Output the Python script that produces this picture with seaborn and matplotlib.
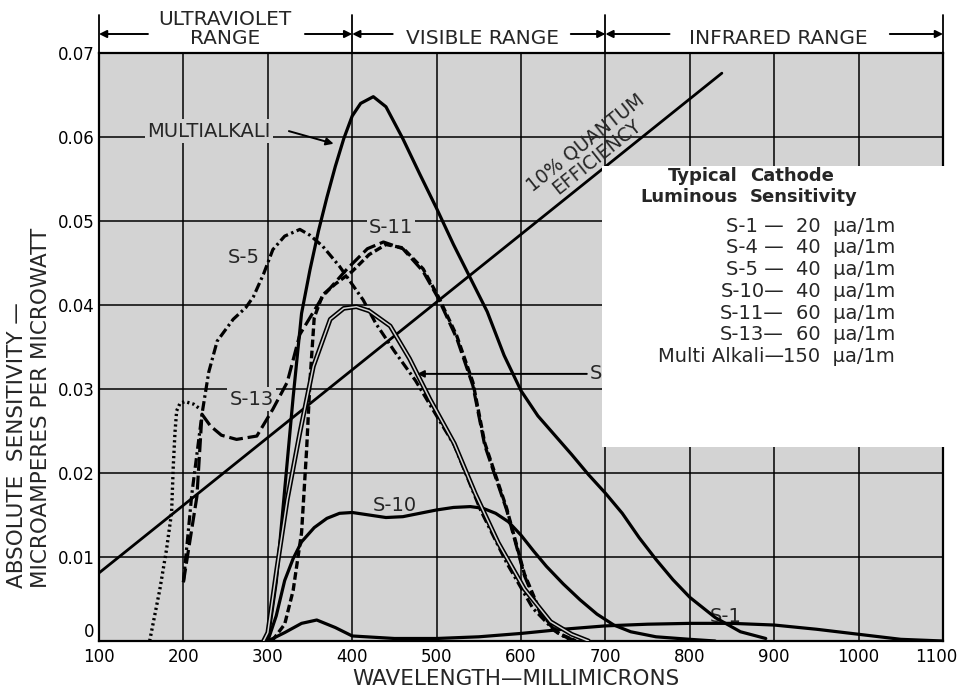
import matplotlib
matplotlib.use("Agg")
import matplotlib.pyplot as plt
import matplotlib.transforms as mtransforms
from matplotlib.patches import Rectangle
import seaborn as sns

# ---------------------------------------------------------------------------
# Spectral response of photocathodes
# wavelength in millimicrons, absolute sensitivity in microamperes per microwatt
# ---------------------------------------------------------------------------
wl_multi = [300, 310, 320, 330, 340, 350, 360, 370, 380, 390, 400, 410, 425,
            440, 460, 480, 500, 520, 540, 560, 580, 600, 620, 640, 660, 680,
            700, 720, 740, 760, 780, 800, 830, 860, 890]
sens_multi = [0, 0.007, 0.018, 0.029, 0.039, 0.0442, 0.0488, 0.0528, 0.0565,
              0.0598, 0.0625, 0.064, 0.0648, 0.0636, 0.0598, 0.0556, 0.0515,
              0.0472, 0.0432, 0.0392, 0.034, 0.0298, 0.0268, 0.0245, 0.0222,
              0.0198, 0.0176, 0.0152, 0.0123, 0.0097, 0.0073, 0.0052, 0.0028,
              0.0011, 0.0003]

wl_s1 = [300, 320, 340, 358, 380, 400, 450, 500, 550, 600, 650, 700, 750,
         800, 850, 900, 950, 1000, 1050, 1100]
sens_s1 = [0, 0.001, 0.0021, 0.0025, 0.0016, 0.0006, 0.0003, 0.0003, 0.0005,
           0.0009, 0.0014, 0.0018, 0.002, 0.0021, 0.0021, 0.0019, 0.0014,
           0.0008, 0.0002, 0]

wl_s4 = [295, 300, 311, 323, 338, 354, 374, 390, 405, 420, 445, 468, 492,
         521, 546, 573, 604, 635, 660, 680]
sens_s4 = [0, 0.001, 0.0088, 0.0168, 0.0248, 0.0327, 0.0383, 0.0396, 0.0398,
           0.0393, 0.0375, 0.0336, 0.0288, 0.0235, 0.0175, 0.0117, 0.0062,
           0.0023, 0.0008, 0]

wl_s5 = [200, 210, 222, 230, 240, 259, 274, 283, 295, 306, 320, 338, 350, 365,
         385, 413, 428, 450, 475, 500, 521, 552, 583, 614, 640, 660]
sens_s5 = [0.007, 0.0175, 0.027, 0.032, 0.0357, 0.0383, 0.0397, 0.041, 0.0437,
           0.0466, 0.0482, 0.049, 0.0483, 0.047, 0.0446, 0.0406, 0.0378,
           0.0345, 0.031, 0.0268, 0.0233, 0.0156, 0.0093, 0.0039, 0.0012, 0]

wl_s10 = [300, 310, 320, 330, 340, 355, 370, 385, 400, 420, 440, 460, 480, 500,
          520, 540, 555, 570, 585, 600, 615, 630, 650, 670, 690, 710, 730, 760,
          800, 830]
sens_s10 = [0, 0.003, 0.0072, 0.0098, 0.0118, 0.0135, 0.0146, 0.0152, 0.0153,
            0.015, 0.0147, 0.0148, 0.0152, 0.0156, 0.0159, 0.016, 0.0158,
            0.0152, 0.0142, 0.0126, 0.0107, 0.0089, 0.0068, 0.0049, 0.0032,
            0.0019, 0.0011, 0.0005, 0.0002, 0]

wl_s11 = [305, 320, 330, 340, 346, 350, 355, 365, 380, 400, 420, 440, 460, 484,
          502, 524, 543, 557, 583, 604, 624, 645, 665]
sens_s11 = [0, 0.002, 0.006, 0.0129, 0.0228, 0.031, 0.0385, 0.0412, 0.0425,
            0.044, 0.046, 0.0472, 0.0468, 0.0443, 0.041, 0.0363, 0.0308,
            0.0236, 0.0158, 0.008, 0.0032, 0.0009, 0]

wl_s13 = [200, 216, 222, 232, 245, 263, 287, 306, 323, 338, 365, 394, 418, 437,
          460, 484, 502, 524, 543, 557, 583, 604, 624, 645, 665]
sens_s13 = [0.007, 0.0172, 0.027, 0.0256, 0.0245, 0.024, 0.0244, 0.0276,
            0.0308, 0.0365, 0.041, 0.0443, 0.0467, 0.0475, 0.0467, 0.044,
            0.0408, 0.036, 0.0304, 0.0233, 0.0156, 0.0078, 0.003, 0.0008, 0]

wl_far_uv = [160, 172, 180, 186, 188, 190, 192, 196, 202, 212, 220]
sens_far_uv = [0, 0.0061, 0.0109, 0.0153, 0.0208, 0.0248, 0.0274, 0.0283,
               0.0285, 0.0282, 0.0276]

wl_qe = [100, 838]
sens_qe = [0.0081, 0.0676]

x_ticks = [100, 200, 300, 400, 500, 600, 700, 800, 900, 1000, 1100]
y_ticks = [0, 0.01, 0.02, 0.03, 0.04, 0.05, 0.06, 0.07]
y_tick_labels = ["0", "0.01", "0.02", "0.03", "0.04", "0.05", "0.06", "0.07"]

range_edges = [100, 400, 700, 1100]

legend_names = ["S-1 \u2014", "S-4 \u2014", "S-5 \u2014", "S-10\u2014",
                "S-11\u2014", "S-13\u2014", "Multi Alkali\u2014"]
legend_values = ["20  \u03bca/1m", "40  \u03bca/1m", "40  \u03bca/1m",
                 "40  \u03bca/1m", "60  \u03bca/1m", "60  \u03bca/1m",
                 "150  \u03bca/1m"]

# ---------------------------------------------------------------------------
sns.set_style("white")
plt.rcParams["font.family"] = ["DejaVu Sans"]
plt.rcParams["lines.scale_dashes"] = False

W, H = 962, 692
BG = "#d3d3d3"
INK = "black"

fig = plt.figure(figsize=(W / 100, H / 100), dpi=100)
fig.patch.set_facecolor("white")
ax = fig.add_axes([99 / W, 1 - 641 / H, (943 - 99) / W, (641 - 53) / H])
ax.set_facecolor(BG)
ax.set_xlim(100, 1100)
ax.set_ylim(0, 0.07)
ax.set_xticks(x_ticks)
ax.set_xticklabels([str(v) for v in x_ticks])
ax.set_yticks(y_ticks)
ax.set_yticklabels(y_tick_labels)
ax.set_axisbelow(True)
ax.grid(True, color=INK, lw=1.1)
ax.tick_params(length=0, labelsize=12, colors=INK)
ax.tick_params(axis="y", pad=3)
ax.tick_params(axis="x", pad=5)
for sp in ax.spines.values():
    sp.set_color(INK)
    sp.set_linewidth(1.6)

# the zero label sits just above the baseline, the last x label tucks inward
ax.get_yticklabels()[0].set_verticalalignment("bottom")
ax.get_xticklabels()[-1].set_transform(
    ax.get_xticklabels()[-1].get_transform()
    + mtransforms.ScaledTranslation(-5 / 72, 0, fig.dpi_scale_trans))


def curve(x, y, lw=2.2, dashes=None, color=INK, z=3, cap="butt"):
    sns.lineplot(x=x, y=y, ax=ax, color=color, lw=lw, estimator=None,
                 sort=False, zorder=z)
    ln = ax.lines[-1]
    if dashes is not None:
        ln.set_dashes(dashes)
        ln.set_dash_capstyle(cap)
    ln.set_solid_joinstyle("round")
    return ln


# 10% quantum efficiency reference line
curve(wl_qe, sens_qe, lw=2.0)

# response curves
curve(wl_multi, sens_multi, lw=2.3)
curve(wl_s10, sens_s10, lw=2.3)
curve(wl_s1, sens_s1, lw=2.3)
curve(wl_s4, sens_s4, lw=3.4, z=3)
curve(wl_s4, sens_s4, lw=1.1, color=BG, z=3.1)
curve(wl_s5, sens_s5, lw=2.3, dashes=(7, 2.5, 1.8, 2.5))
curve(wl_s11, sens_s11, lw=2.4, dashes=(5.5, 2.5))
curve(wl_s13, sens_s13, lw=2.3, dashes=(10, 3.5))
curve(wl_far_uv, sens_far_uv, lw=2.4, dashes=(1.6, 2.2))

# curve labels
lab_box = dict(boxstyle="square,pad=0.12", fc=BG, ec="none")
LBL = 14
ax.text(230, 0.0607, "MULTIALKALI", fontsize=LBL, ha="center", va="center",
        bbox=lab_box, zorder=1)
ax.annotate("", xy=(378, 0.0592), xytext=(325, 0.0607),
            arrowprops=dict(arrowstyle="-|>", lw=1.4, color=INK,
                            mutation_scale=11, shrinkA=0, shrinkB=0), zorder=4)
ax.text(446, 0.0492, "S-11", fontsize=LBL, ha="center", va="center",
        bbox=lab_box, zorder=1)
ax.text(271, 0.0456, "S-5", fontsize=LBL, ha="center", va="center",
        bbox=lab_box, zorder=1)
ax.text(281, 0.0288, "S-13", fontsize=LBL, ha="center", va="center",
        bbox=lab_box, zorder=1)
ax.text(450, 0.0161, "S-10", fontsize=LBL, ha="center", va="center",
        bbox=lab_box, zorder=1)
ax.text(843, 0.0029, "S-1", fontsize=LBL, ha="center", va="center",
        bbox=lab_box, zorder=1)
ax.text(682, 0.0318, "S-4", fontsize=LBL, ha="left", va="center", zorder=4)
ax.annotate("", xy=(477, 0.0318), xytext=(678, 0.0318),
            arrowprops=dict(arrowstyle="-|>", lw=1.4, color=INK,
                            mutation_scale=10, shrinkA=0, shrinkB=0), zorder=4)

# quantum efficiency label, parallel to its line
ax.text(683, 0.0585, "10% QUANTUM\nEFFICIENCY", fontsize=13.5, ha="center",
        va="center", rotation=38.6, rotation_mode="anchor", linespacing=0.95,
        zorder=7)

# cathode sensitivity table on a white panel
ax.add_patch(Rectangle((696, 0.0231), 407, 0.0334, facecolor="white",
                       edgecolor="none", zorder=5, clip_on=False))


def fx(px):
    return px / W


def fyf(py):
    return 1 - py / H


fig.text(fx(738), fyf(176), "Typical", fontsize=13, fontweight="bold",
         ha="right", va="center", zorder=8)
fig.text(fx(750), fyf(176), "Cathode", fontsize=13, fontweight="bold",
         ha="left", va="center", zorder=8)
fig.text(fx(738), fyf(197), "Luminous", fontsize=13, fontweight="bold",
         ha="right", va="center", zorder=8)
fig.text(fx(750), fyf(197), "Sensitivity", fontsize=13, fontweight="bold",
         ha="left", va="center", zorder=8)
for i, (nm, val) in enumerate(zip(legend_names, legend_values)):
    py = 226 + i * 21.8
    fig.text(fx(784), fyf(py), nm, fontsize=14, ha="right", va="center",
             zorder=8)
    fig.text(fx(895), fyf(py), val, fontsize=14, ha="right", va="center",
             zorder=8)

# spectral range header above the grid
tr = mtransforms.blended_transform_factory(ax.transData, ax.transAxes)


def fa(py):
    return (641 - py) / 588


for xe in range_edges:
    ax.plot([xe, xe], [fa(15), 1.0], transform=tr, color=INK, lw=1.3,
            clip_on=False)

arrow_kw = dict(arrowstyle="-|>", lw=1.4, color=INK, mutation_scale=11,
                shrinkA=0, shrinkB=0)
for tail, head in [(158, 100), (344, 400), (448, 400), (659, 700),
                   (776, 700), (1037, 1100)]:
    ax.annotate("", xy=(head, fa(34)), xytext=(tail, fa(34)), xycoords=tr,
                textcoords=tr, arrowprops=arrow_kw, annotation_clip=False)

HDR = 14.5
ax.text(249, fa(19), "ULTRAVIOLET", transform=tr, fontsize=HDR, ha="center",
        va="center")
ax.text(250, fa(38), "RANGE", transform=tr, fontsize=HDR, ha="center",
        va="center")
ax.text(554, fa(38), "VISIBLE RANGE", transform=tr, fontsize=HDR,
        ha="center", va="center")
ax.text(905, fa(38), "INFRARED RANGE", transform=tr, fontsize=HDR,
        ha="center", va="center")

# axis titles
fig.text(fx(17), fyf(588), "ABSOLUTE  SENSITIVITY \u2014", fontsize=15.5,
         rotation=90, ha="left", va="center", rotation_mode="anchor")
fig.text(fx(41), fyf(588), "MICROAMPERES PER MICROWATT", fontsize=15.5,
         rotation=90, ha="left", va="center", rotation_mode="anchor")
fig.text(fx(516), fyf(679), "WAVELENGTH\u2014MILLIMICRONS", fontsize=15.5,
         ha="center", va="center")

fig.savefig("out.png", dpi=100, facecolor="white")
